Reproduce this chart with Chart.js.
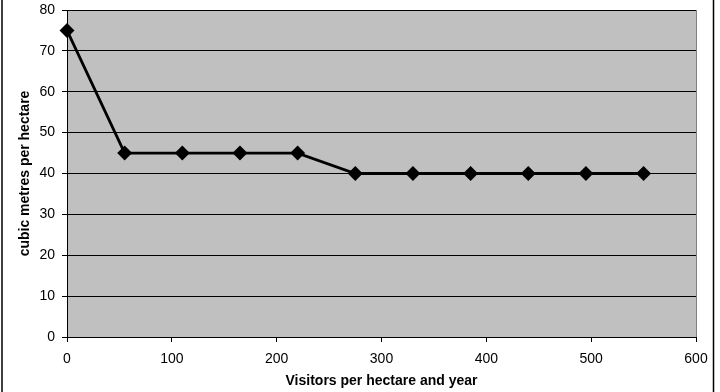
<!DOCTYPE html>
<html>
<head>
<meta charset="utf-8">
<script src="https://cdn.jsdelivr.net/npm/chart.js@4"></script>
<style>
  html, body { margin: 0; padding: 0; background: #fff; }
  #wrap { width: 720px; height: 392px; }
</style>
</head>
<body>
<div id="wrap"><canvas id="grafico" width="720" height="392"></canvas></div>
<script>
// visitantes por hectárea y año
const visitors = [0, 55, 110, 165, 220, 275, 330, 385, 440, 495, 550];
// metros cúbicos por hectárea
const cubicMetres = [75, 45, 45, 45, 45, 40, 40, 40, 40, 40, 40];
const xTicks = [0, 100, 200, 300, 400, 500, 600];
const yTicks = [0, 10, 20, 30, 40, 50, 60, 70, 80];

const points = visitors.map((v, i) => ({ x: v, y: cubicMetres[i] }));

const fondoGris = {
  id: "fondoGris",
  beforeDraw(chart) {
    const { ctx, chartArea: a } = chart;
    ctx.save();
    ctx.fillStyle = "#c0c0c0";
    ctx.fillRect(a.left, a.top, a.right - a.left, a.bottom - a.top);
    ctx.restore();
  },
  afterDraw(chart) {
    const { ctx, chartArea: a } = chart;
    ctx.save();
    // borde derecho gris del área
    ctx.strokeStyle = "#808080";
    ctx.lineWidth = 1;
    ctx.beginPath();
    ctx.moveTo(a.right + 0.5, a.top);
    ctx.lineTo(a.right + 0.5, a.bottom);
    ctx.stroke();
    // marco exterior
    ctx.strokeStyle = "#000";
    ctx.lineWidth = 1.5;
    ctx.beginPath();
    ctx.moveTo(2, 0);
    ctx.lineTo(2, 392);
    ctx.moveTo(713.5, 0);
    ctx.lineTo(713.5, 392);
    ctx.stroke();
    ctx.restore();
  },
};

const ctx = document.getElementById("grafico").getContext("2d");

new Chart(ctx, {
  type: "scatter",
  data: {
    datasets: [
      {
        data: points,
        showLine: true,
        clip: false,
        borderColor: "#000",
        backgroundColor: "#000",
        borderWidth: 2.8,
        pointStyle: "rectRot",
        pointRadius: 5.5,
        tension: 0,
      },
    ],
  },
  options: {
    responsive: false,
    animation: false,
    layout: { padding: { top: 10, right: 24, left: 0, bottom: 0 } },
    plugins: {
      legend: { display: false },
      tooltip: { enabled: false },
    },
    scales: {
      x: {
        type: "linear",
        min: 0,
        max: 600,
        afterFit: (s) => { s.height = 55; s.paddingRight = 0; s.paddingLeft = 0; },
        afterBuildTicks: (s) => { s.ticks = xTicks.map((v) => ({ value: v })); },
        ticks: {
          color: "#000",
          padding: 9,
          maxRotation: 0,
          font: { family: "Liberation Sans, Arial", size: 14 },
        },
        grid: {
          drawOnChartArea: false,
          color: "#000",
          tickLength: 5,
        },
        border: { color: "#000", width: 1 },
        title: {
          display: true,
          text: "Visitors per hectare and year",
          color: "#000",
          padding: { top: 4, bottom: 2 },
          font: { family: "Liberation Sans, Arial", size: 14, weight: "bold" },
        },
      },
      y: {
        min: 0,
        max: 80,
        afterFit: (s) => { s.width = 67; s.paddingTop = 0; s.paddingBottom = 0; },
        afterBuildTicks: (s) => { s.ticks = yTicks.map((v) => ({ value: v })); },
        ticks: {
          color: "#000",
          padding: 7,
          font: { family: "Liberation Sans, Arial", size: 14 },
        },
        grid: {
          color: "#000",
          lineWidth: 1,
          tickLength: 5,
        },
        border: { color: "#000", width: 1 },
        title: {
          display: true,
          text: "cubic metres per hectare",
          color: "#000",
          padding: { top: 17, bottom: 4 },
          font: { family: "Liberation Sans, Arial", size: 14, weight: "bold" },
        },
      },
    },
  },
  plugins: [fondoGris],
});
</script>
</body>
</html>
